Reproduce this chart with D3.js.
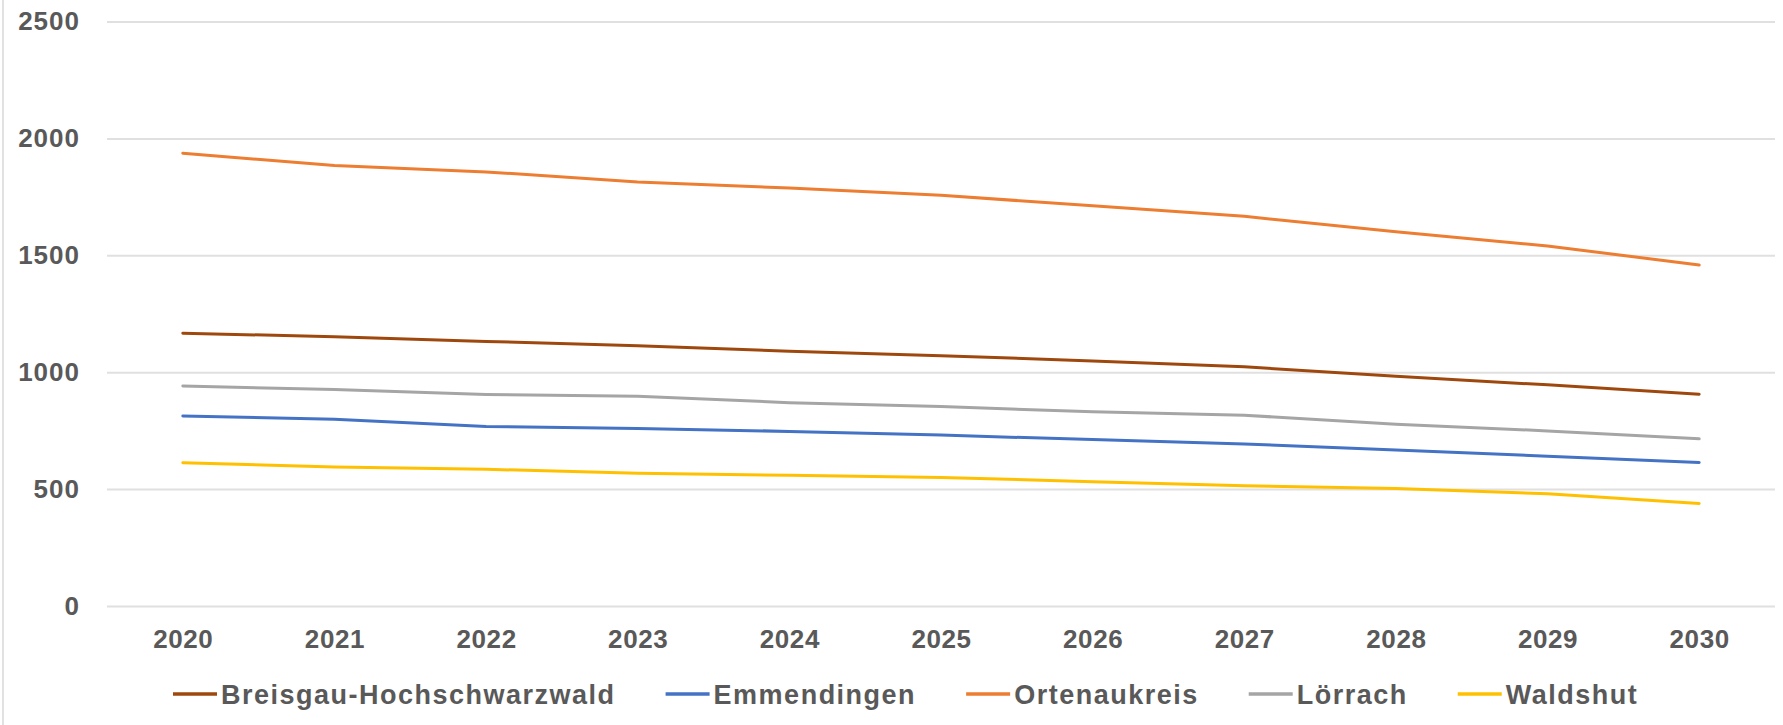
<!DOCTYPE html>
<html>
<head>
<meta charset="utf-8">
<script src="https://cdn.jsdelivr.net/npm/d3@7"></script>
<style>
  html, body { margin: 0; padding: 0; background: #fff; }
  svg { display: block; }
  text { font-family: "Liberation Sans", Arial, Helvetica, sans-serif; font-weight: bold; fill: #595959; }
</style>
</head>
<body>
<svg id="chart" width="1783" height="725"></svg>
<script>
// Years on the category axis
const years = ["2020", "2021", "2022", "2023", "2024", "2025", "2026", "2027", "2028", "2029", "2030"];

// Values per district
const breisgau    = [1167, 1152, 1132, 1113, 1090, 1071, 1048, 1023, 983, 946, 906];
const emmendingen = [813, 799, 768, 759, 747, 731, 712, 693, 667, 641, 614];
const ortenau     = [1937, 1884, 1857, 1814, 1788, 1757, 1712, 1667, 1601, 1540, 1459];
const loerrach    = [941, 926, 905, 897, 870, 853, 831, 816, 778, 749, 715];
const waldshut    = [613, 595, 585, 568, 559, 550, 532, 514, 503, 480, 439];

const seriesNames  = ["Breisgau-Hochschwarzwald", "Emmendingen", "Ortenaukreis", "Lörrach", "Waldshut"];
const seriesColors = ["#9E480E", "#4472C4", "#ED7D31", "#A5A5A5", "#FFC000"];
const seriesValues = [breisgau, emmendingen, ortenau, loerrach, waldshut];

const yTicks = [0, 500, 1000, 1500, 2000, 2500];

const svg = d3.select("#chart");
const plot = { left: 107, right: 1775, top: 21.6, bottom: 606 };

const x = d3.scalePoint().domain(years).range([plot.left, plot.right]).padding(0.5);
const y = d3.scaleLinear().domain([0, 2500]).range([plot.bottom, plot.top]);

// Chart frame edge on the left
svg.append("line")
  .attr("x1", 3).attr("x2", 3).attr("y1", 0).attr("y2", 725)
  .attr("stroke", "#d9d9d9").attr("stroke-width", 1.5);

// Horizontal gridlines with value labels
const yAxis = svg.append("g")
  .attr("transform", `translate(${plot.left},0)`)
  .call(d3.axisLeft(y).tickValues(yTicks).tickSize(-(plot.right - plot.left)).tickPadding(27).tickFormat(d3.format("d")));
yAxis.select(".domain").remove();
yAxis.selectAll(".tick line").attr("stroke", "#e0e0e0").attr("stroke-width", 2);
yAxis.selectAll(".tick text")
  .attr("font-size", 26).attr("letter-spacing", 1).attr("fill", "#595959")
  .style("font-family", "'Liberation Sans', Arial, sans-serif").style("font-weight", "bold");

// Year labels
const xAxis = svg.append("g")
  .attr("transform", `translate(0,${plot.bottom})`)
  .call(d3.axisBottom(x).tickSize(0).tickPadding(24));
xAxis.select(".domain").remove();
xAxis.selectAll(".tick text")
  .attr("font-size", 26).attr("letter-spacing", 0.6).attr("fill", "#595959")
  .style("font-family", "'Liberation Sans', Arial, sans-serif").style("font-weight", "bold");

// Lines
const line = d3.line()
  .x((d, i) => x(years[i]))
  .y(d => y(d));

svg.append("g").selectAll("path")
  .data(seriesValues)
  .join("path")
  .attr("d", d => line(d))
  .attr("fill", "none")
  .attr("stroke", (d, i) => seriesColors[i])
  .attr("stroke-width", 3)
  .attr("stroke-linejoin", "round")
  .attr("stroke-linecap", "round");

// Legend
const legend = svg.append("g").attr("transform", "translate(173,694)");
let lx = 0;
seriesNames.forEach((name, i) => {
  const item = legend.append("g").attr("transform", `translate(${lx},0)`);
  item.append("line")
    .attr("x1", 0).attr("x2", 44).attr("y1", 0).attr("y2", 0)
    .attr("stroke", seriesColors[i]).attr("stroke-width", 3.5);
  const t = item.append("text")
    .attr("x", 48).attr("y", 9.5)
    .attr("font-size", 27).attr("letter-spacing", 1.5)
    .text(name);
  lx += 48 + t.node().getComputedTextLength() + 50;
});
</script>
</body>
</html>
